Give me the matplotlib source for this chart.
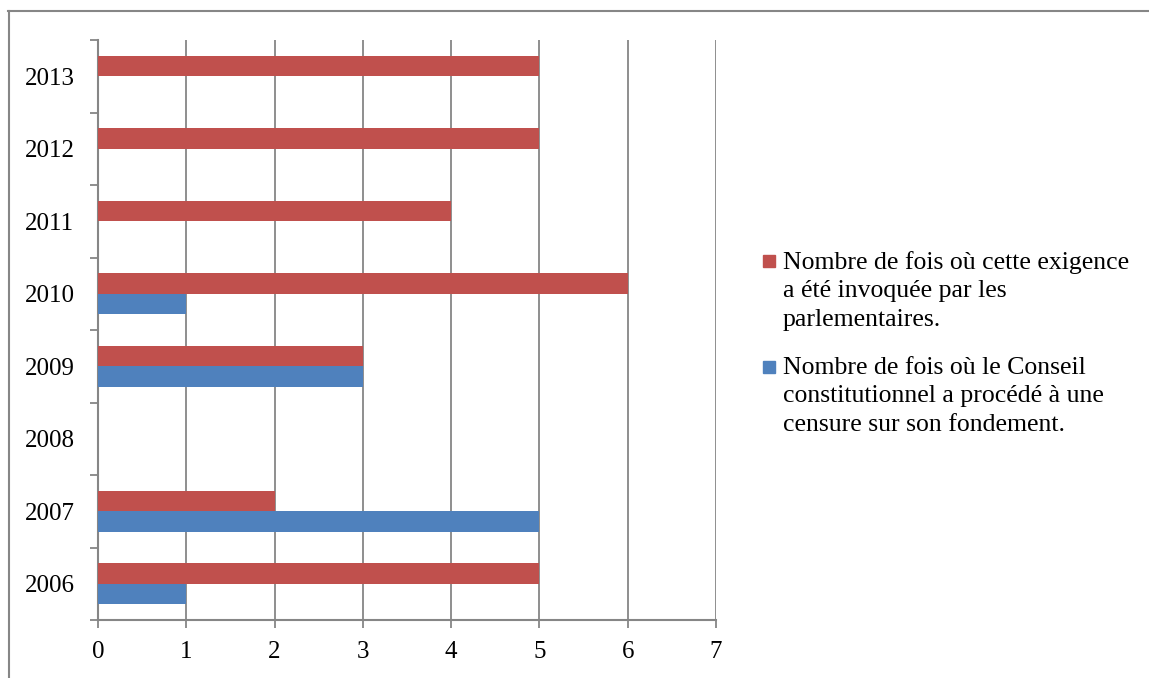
import matplotlib.pyplot as plt
from matplotlib.patches import Rectangle
from matplotlib.lines import Line2D
import numpy as np

# ---------------------- Data ---------------------------
years = ["2006", "2007", "2008", "2009", "2010", "2011", "2012", "2013"]
invoked = [5, 2, 0, 3, 6, 4, 5, 5]       # red series
censured = [1, 5, 0, 3, 1, 0, 0, 0]      # blue series
label_invoked = "Nombre de fois où cette exigence\na été invoquée par les\nparlementaires."
label_censured = "Nombre de fois où le Conseil\nconstitutionnel a procédé à une\ncensure sur son fondement."

red = "#C0504D"
blue = "#4F81BD"
grid_col = "#868686"

plt.rcParams["font.family"] = ["Liberation Serif", "DejaVu Serif"]

W, H = 1149, 678
fig = plt.figure(figsize=(W / 100, H / 100), dpi=100)
ax = fig.add_axes([98 / W, 1 - 620 / H, (716 - 98) / W, (620 - 40) / H])

# ---------------------- Bars ---------------------------
y = np.arange(len(years))
h = 1 / 3.5
ax.barh(y + h / 2, invoked, height=h, color=red, zorder=3)
ax.barh(y - h / 2, censured, height=h, color=blue, zorder=3)

ax.set_xlim(0, 7)
ax.set_ylim(-0.5, len(years) - 0.5)
ax.set_xticks(range(8))
ax.set_yticks(y)
ax.set_yticklabels(years)
ax.set_yticks(np.arange(-0.5, len(years), 1), minor=True)
ax.tick_params(axis="y", which="major", length=0, labelsize=18, pad=17, colors="black")
ax.tick_params(axis="y", which="minor", length=6, width=1.3, color=grid_col)
ax.tick_params(axis="x", length=6, width=1.3, color=grid_col, labelsize=18, pad=9)

ax.grid(axis="x", color=grid_col, linewidth=1.3, zorder=0)
for s in ["top", "right"]:
    ax.spines[s].set_visible(False)
for s in ["left", "bottom"]:
    ax.spines[s].set_color(grid_col)
    ax.spines[s].set_linewidth(1.5)

# ---------------------- Legend (manual) ---------------------------
for yy, col, lab in [(251, red, label_invoked), (357, blue, label_censured)]:
    fig.add_artist(Rectangle((763 / W, 1 - (yy + 16) / H), 12 / W, 12 / H,
                             transform=fig.transFigure, color=col))
    fig.text(783 / W, 1 - yy / H, lab, fontsize=18.5, va="top", ha="left",
             linespacing=1.37)

# ---------------------- Outer frame (top and left only) ---------------------------
fig.add_artist(Line2D([8 / W, 1], [1 - 10.5 / H, 1 - 10.5 / H],
                      transform=fig.transFigure, color=grid_col, linewidth=1.5))
fig.add_artist(Line2D([8.5 / W, 8.5 / W], [0, 1 - 10.5 / H],
                      transform=fig.transFigure, color=grid_col, linewidth=1.5))

fig.savefig("out.png", dpi=100)
